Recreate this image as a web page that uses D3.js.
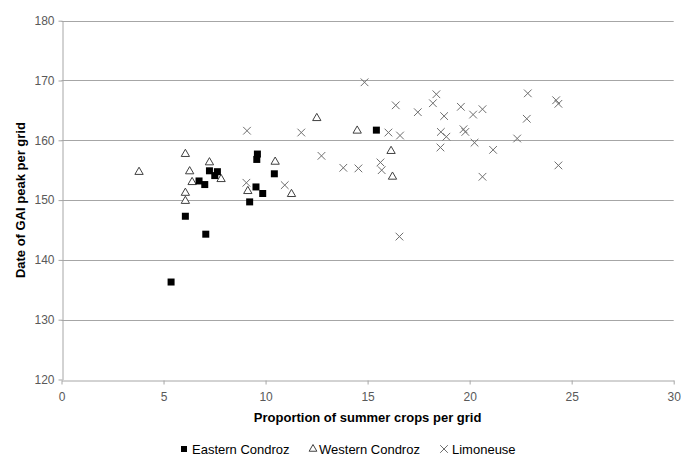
<!DOCTYPE html>
<html lang="en">
  <head>
    <meta charset="utf-8">
    <title>GAI peak vs summer crops</title>
    <script type="text/javascript" src="https://cdn.jsdelivr.net/npm/d3@7"></script>
    <style>
      body { margin: 0; background: #fff; }
      text { font-family: "Liberation Sans", Arial, sans-serif; }
    </style>
  </head>
  <body>
    <script type="text/javascript">
    // values: [proportion of summer crops, date of GAI peak]
    var easternX = [5.37, 7.07, 6.07, 6.74, 7.02, 7.25, 7.51, 7.64, 9.22, 9.53, 9.6, 9.57, 9.86, 10.43, 15.43];
    var easternY = [136.3, 144.3, 147.3, 153.2, 152.6, 154.9, 154.1, 154.75, 149.7, 152.2, 157.7, 156.8, 151.1, 154.4, 161.7];

    var westernX = [3.8, 6.07, 6.28, 6.4, 6.07, 6.07, 7.25, 7.82, 9.13, 10.47, 11.27, 12.51, 14.49, 16.15, 16.22];
    var westernY = [154.7, 157.7, 154.8, 153.0, 151.2, 149.85, 156.3, 153.5, 151.5, 156.4, 151.0, 163.7, 161.6, 158.2, 153.9];

    var limoX = [9.09, 11.75, 12.74, 9.06, 10.94, 13.81, 14.55, 14.85, 15.63, 15.69, 16.02, 16.38, 16.59, 16.56,
                 17.46, 18.2, 18.37, 18.59, 18.57, 18.75, 18.86, 19.57, 19.7, 19.79, 20.17, 20.24, 20.63, 20.63,
                 21.15, 22.33, 22.8, 22.85, 24.24, 24.35, 24.35];
    var limoY = [161.6, 161.3, 157.4, 152.9, 152.5, 155.4, 155.3, 169.7, 156.3, 155.0, 161.3, 165.85, 160.8, 143.9,
                 164.7, 166.2, 167.7, 161.4, 158.8, 164.05, 160.6, 165.6, 161.85, 161.4, 164.3, 159.6, 165.2, 153.9,
                 158.4, 160.3, 163.6, 167.85, 166.7, 166.1, 155.8];

    var xTicks = [0, 5, 10, 15, 20, 25, 30];
    var yTicks = [120, 130, 140, 150, 160, 170, 180];
    var seriesNames = ["Eastern Condroz", "Western Condroz", "Limoneuse"];

    var w = 681;
    var h = 456;
    var margin = {left: 61.5, right: 7.3, top: 20.7, bottom: 76.5};

    var svg = d3.select("body")
                .append("svg")
                .attr("width", w)
                .attr("height", h);

    var x = d3.scaleLinear().domain([0, 30]).range([margin.left, w - margin.right]);
    var y = d3.scaleLinear().domain([120, 180]).range([h - margin.bottom, margin.top]);

    // horizontal grid lines
    svg.append("g")
       .selectAll("line")
       .data(yTicks.slice(1))
       .enter()
       .append("line")
       .attr("x1", x(0))
       .attr("x2", x(30))
       .attr("y1", function(d) { return Math.round(y(d)) + 0.5; })
       .attr("y2", function(d) { return Math.round(y(d)) + 0.5; })
       .attr("stroke", "#a6a6a6")
       .attr("stroke-width", 1);

    // x axis
    var xAxis = svg.append("g")
       .attr("transform", "translate(0," + (Math.round(y(120)) + 0.5) + ")")
       .call(d3.axisBottom(x).tickValues(xTicks).tickSize(4).tickPadding(8).tickSizeOuter(0));
    xAxis.select(".domain").attr("stroke", "#a6a6a6");
    xAxis.selectAll(".tick line").attr("stroke", "#a6a6a6");
    xAxis.selectAll("text").attr("fill", "#595959").style("font-size", "12px")
         .style("font-family", "'Liberation Sans', Arial, sans-serif");

    // y axis
    var yAxis = svg.append("g")
       .attr("transform", "translate(" + (Math.round(x(0)) + 0.5) + ",0)")
       .call(d3.axisLeft(y).tickValues(yTicks).tickSize(4).tickPadding(4).tickSizeOuter(0));
    yAxis.select(".domain").attr("stroke", "#a6a6a6");
    yAxis.selectAll(".tick line").attr("stroke", "#a6a6a6");
    yAxis.selectAll("text").attr("fill", "#595959").style("font-size", "12px")
         .style("font-family", "'Liberation Sans', Arial, sans-serif");

    // marker shapes
    var square = d3.symbol().type(d3.symbolSquare).size(49);
    var triangle = d3.symbol().type(d3.symbolTriangle).size(30);
    var cross = d3.symbol().type(d3.symbolX).size(40);

    var toPoints = function(xs, ys) {
      return xs.map(function(v, i) { return [v, ys[i]]; });
    };

    svg.append("g").selectAll("path")
       .data(toPoints(limoX, limoY))
       .enter()
       .append("path")
       .attr("d", cross)
       .attr("transform", function(d) { return "translate(" + x(d[0]) + "," + y(d[1]) + ")"; })
       .attr("fill", "none")
       .attr("stroke", "#6e6e6e")
       .attr("stroke-width", 1);

    svg.append("g").selectAll("path")
       .data(toPoints(westernX, westernY))
       .enter()
       .append("path")
       .attr("d", triangle)
       .attr("transform", function(d) { return "translate(" + x(d[0]) + "," + y(d[1]) + ")"; })
       .attr("fill", "#fff")
       .attr("stroke", "#404040")
       .attr("stroke-width", 1);

    svg.append("g").selectAll("path")
       .data(toPoints(easternX, easternY))
       .enter()
       .append("path")
       .attr("d", square)
       .attr("transform", function(d) { return "translate(" + x(d[0]) + "," + y(d[1]) + ")"; })
       .attr("fill", "#000");

    // axis titles
    svg.append("text")
       .attr("x", (x(0) + x(30)) / 2)
       .attr("y", 421.5)
       .attr("text-anchor", "middle")
       .style("font-size", "13px")
       .style("font-weight", "bold")
       .text("Proportion of summer crops per grid");

    svg.append("text")
       .attr("transform", "translate(24.5," + (y(150)) + ") rotate(-90)")
       .attr("text-anchor", "middle")
       .style("font-size", "13px")
       .style("font-weight", "bold")
       .text("Date of GAI peak per grid");

    // legend
    var legendX = [184, 313, 444];
    var legend = svg.append("g");
    seriesNames.forEach(function(name, i) {
      var s = d3.symbol().type([d3.symbolSquare, d3.symbolTriangle, d3.symbolX][i]).size([36, 26, 40][i]);
      var mark = legend.append("path")
         .attr("d", s)
         .attr("transform", "translate(" + legendX[i] + ",449)");
      if (i == 0) {
        mark.attr("fill", "#000");
      } else if (i == 1) {
        mark.attr("fill", "#fff").attr("stroke", "#404040");
      } else {
        mark.attr("fill", "none").attr("stroke", "#6e6e6e");
      }
      legend.append("text")
         .attr("x", legendX[i] + (i == 1 ? 6 : 8))
         .attr("y", 454)
         .style("font-size", "13px")
         .text(name);
    });
    </script>
  </body>
</html>
